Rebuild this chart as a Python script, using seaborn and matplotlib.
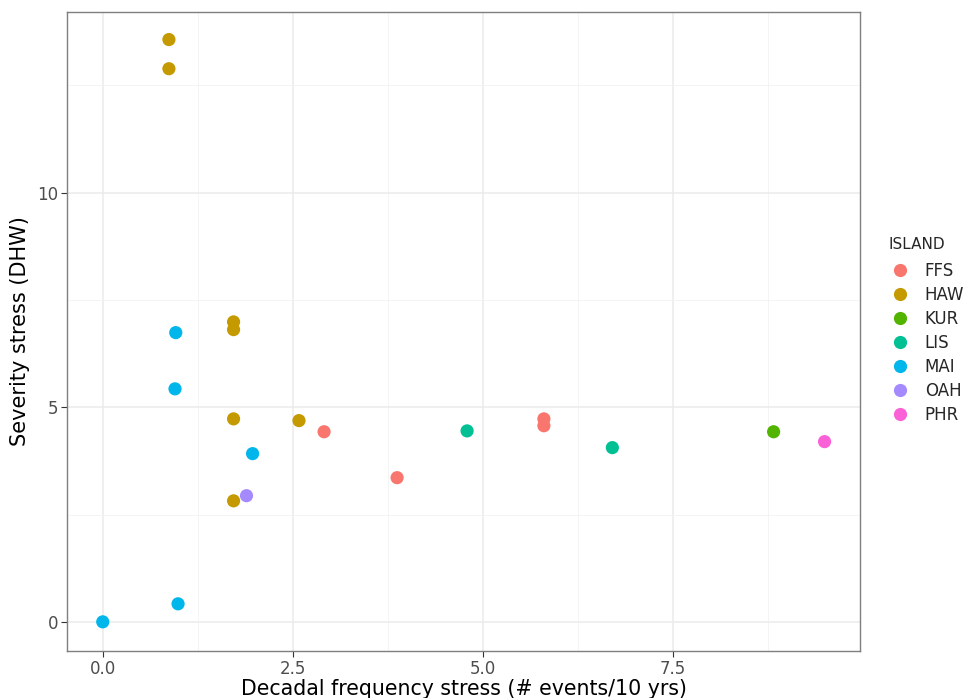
import matplotlib
matplotlib.use("Agg")
import matplotlib.pyplot as plt
import seaborn as sns
import pandas as pd
import numpy as np
from matplotlib.ticker import MultipleLocator

islands = ["HAW", "HAW", "HAW", "HAW", "HAW", "HAW", "HAW",
           "MAI", "MAI", "MAI", "MAI", "MAI",
           "OAH",
           "FFS", "FFS", "FFS", "FFS",
           "LIS", "LIS",
           "KUR",
           "PHR"]
frequency = [0.87, 0.87, 1.72, 1.72, 1.72, 2.58, 1.72,
             0.96, 0.95, 1.97, 0.99, 0.0,
             1.89,
             2.91, 3.87, 5.80, 5.80,
             4.79, 6.70,
             8.82,
             9.49]
severity = [13.57, 12.89, 6.99, 6.81, 4.73, 4.69, 2.82,
            6.74, 5.43, 3.92, 0.42, 0.0,
            2.94,
            4.43, 3.36, 4.73, 4.57,
            4.45, 4.06,
            4.43,
            4.20]
order = ["FFS", "HAW", "KUR", "LIS", "MAI", "OAH", "PHR"]
colors = ["#F8766D", "#C49A00", "#53B400", "#00C094", "#00B6EB", "#A58AFF", "#FB61D7"]

df = pd.DataFrame({"ISLAND": islands, "freq": frequency, "sev": severity})

sns.set_theme(style="white")
plt.rcParams['font.family'] = ['DejaVu Sans']

fig = plt.figure(figsize=(9.71, 6.98), dpi=100)
ax = fig.add_axes([0.069, 0.0673, 0.817, 0.916])

sns.scatterplot(data=df, x="freq", y="sev", hue="ISLAND", hue_order=order,
                palette=colors, s=90, linewidth=0, ax=ax, legend=True, zorder=3)

ax.set_xlim(-0.47, 9.96)
ax.set_ylim(-0.68, 14.22)
ax.xaxis.set_minor_locator(MultipleLocator(1.25))
ax.yaxis.set_minor_locator(MultipleLocator(2.5))
ax.set_xticks([0, 2.5, 5.0, 7.5])
ax.set_xticklabels(["0.0", "2.5", "5.0", "7.5"])
ax.set_yticks([0, 5, 10])
ax.set_yticklabels(["0", "5", "10"])
ax.grid(which="major", color="#EBEBEB", linewidth=1.1, zorder=0)
ax.grid(which="minor", color="#F2F2F2", linewidth=0.6, zorder=0)
ax.set_axisbelow(True)
for sp in ax.spines.values():
    sp.set_color("#7F7F7F")
    sp.set_linewidth(1.0)
ax.tick_params(which="major", length=4, width=0.8, color="#333333",
               labelsize=12, labelcolor="#4D4D4D", bottom=True, left=True, pad=2.5)
ax.tick_params(which="minor", length=0)

ax.set_xlabel("Decadal frequency stress (# events/10 yrs)", fontsize=14.8, color="black", labelpad=0.5)
ax.set_ylabel("Severity stress (DHW)", fontsize=15, color="black", labelpad=5)

handles, labels = ax.get_legend_handles_labels()
leg = fig.legend(handles=handles, labels=labels, title="ISLAND", loc="upper left",
                 bbox_to_anchor=(888 / 971, 1 - 237 / 698), bbox_transform=fig.transFigure,
                 frameon=False, fontsize=12, title_fontsize=11, handletextpad=0.8,
                 handlelength=1.4, borderpad=0, borderaxespad=0,
                 labelspacing=0.36, markerscale=1.0)
leg._legend_box.align = "left"
leg._legend_box.sep = 7
ax.get_legend().remove()

fig.savefig("out.png", dpi=100)
